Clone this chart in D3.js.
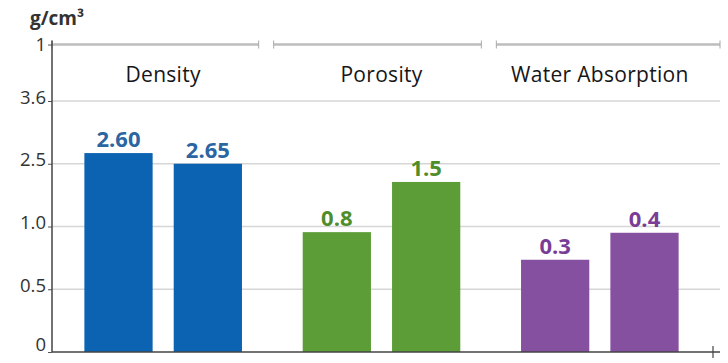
<!DOCTYPE html>
<html>
<head>
<meta charset="utf-8">
<script src="https://cdn.jsdelivr.net/npm/d3@7"></script>
<style>
  body { margin: 0; background: #fff; }
  svg { display: block; font-family: "Open Sans", "Noto Sans", sans-serif; }
</style>
</head>
<body>
<div id="chart"></div>
<script>
// data
var categories = ['Density', 'Porosity', 'Water Absorption'];
var members = ['a', 'b'];
var valueLabels = [['2.60', '2.65'], ['0.8', '1.5'], ['0.3', '0.4']];
// bar tops as drawn, in axis-tick units (the axis is not linear in its labels)
var barHeights = [[3.17, 3.0], [1.91, 2.71], [1.47, 1.90]];
var tickPos = [0, 1, 2, 3, 4, 4.9];
var tickLabels = ['0', '0.5', '1.0', '2.5', '3.6', '1'];
var barColors = ['#0b63b1', '#5c9d37', '#8650a0'];
var labelColors = ['#2b66a3', '#4f8d2b', '#7a3d96'];

var width = 728, height = 363;
var left = 52, right = 720, base = 352;

var svg = d3.select('#chart').append('svg')
    .attr('width', width)
    .attr('height', height);

var y = d3.scaleLinear().domain([0, 4]).range([base, 101]);

// header bands span the full plot, the bar groups sit a bit tighter
var xh = d3.scaleBand().domain(categories).range([left, right]);
var x0 = d3.scaleBand().domain(categories).range([54, 709]);
var x1 = d3.scaleBand().domain(members).range([0, x0.bandwidth()])
    .paddingInner(0.236).paddingOuter(0.34);

// gridlines
svg.append('g').selectAll('line')
    .data(tickPos.slice(1, 5))
    .enter().append('line')
    .attr('x1', left).attr('x2', right)
    .attr('y1', function(d) { return y(d); })
    .attr('y2', function(d) { return y(d); })
    .attr('stroke', '#d6d6d6')
    .attr('stroke-width', 1.5);

// header brackets
var topY = y(tickPos[5]);
function bx0(d, i) { return xh(d) + (i == 0 ? 0 : -1); }
function bx1(d, i) { return xh(d) + xh.bandwidth() - (i == 2 ? 0 : 16); }
var brackets = svg.append('g').selectAll('g')
    .data(categories)
    .enter().append('g');
brackets.append('line')
    .attr('x1', bx0).attr('x2', bx1)
    .attr('y1', topY).attr('y2', topY)
    .attr('stroke', '#bdbdbd').attr('stroke-width', 2.5);
brackets.each(function(d, i) {
    var g = d3.select(this);
    [bx0(d, i), bx1(d, i)].forEach(function(xx) {
        g.append('line')
            .attr('x1', xx).attr('x2', xx)
            .attr('y1', topY - 4).attr('y2', topY + 4)
            .attr('stroke', '#aaa').attr('stroke-width', 1);
    });
});

// category labels
svg.append('g').selectAll('text')
    .data(categories)
    .enter().append('text')
    .attr('x', function(d) { return x0(d) + x0.bandwidth() / 2; })
    .attr('y', 82)
    .attr('text-anchor', 'middle')
    .attr('font-size', 21)
    .attr('letter-spacing', 0.3)
    .attr('fill', '#161616')
    .text(function(d) { return d; });

// bars
var groups = svg.append('g').selectAll('g')
    .data(categories)
    .enter().append('g')
    .attr('transform', function(d) { return 'translate(' + x0(d) + ',0)'; });

groups.each(function(cat, ci) {
    var g = d3.select(this);
    var rows = members.map(function(m, mi) {
        return { m: m, h: barHeights[ci][mi], label: valueLabels[ci][mi] };
    });
    g.selectAll('rect')
        .data(rows)
        .enter().append('rect')
        .attr('x', function(d) { return x1(d.m); })
        .attr('y', function(d) { return y(d.h); })
        .attr('width', x1.bandwidth())
        .attr('height', function(d) { return y(0) - y(d.h); })
        .attr('fill', barColors[ci]);
    g.selectAll('text')
        .data(rows)
        .enter().append('text')
        .attr('x', function(d) { return x1(d.m) + x1.bandwidth() / 2; })
        .attr('y', function(d) { return y(d.h) - 6; })
        .attr('text-anchor', 'middle')
        .attr('font-size', 22)
        .attr('font-weight', 'bold')
        .attr('fill', labelColors[ci])
        .text(function(d) { return d.label; });
});

// y axis
var yAxis = d3.axisLeft(y)
    .tickValues(tickPos)
    .tickSize(4)
    .tickFormat(function(d, i) { return tickLabels[i]; });
var ay = svg.append('g')
    .attr('transform', 'translate(' + left + ',0)')
    .call(yAxis);
ay.select('.domain').remove();
ay.selectAll('.tick line').attr('stroke', '#555');
ay.selectAll('.tick text')
    .attr('font-size', 18.5)
    .attr('font-family', '"Open Sans", sans-serif')
    .attr('fill', '#333')
    .attr('x', -6)
    .attr('dy', function(d, i) {
        if (i == 0) return '-0.1em';
        if (i == tickPos.length - 1) return '0.34em';
        return '0.12em';
    });
svg.append('line')
    .attr('x1', left).attr('x2', left)
    .attr('y1', topY - 4).attr('y2', base)
    .attr('stroke', '#444').attr('stroke-width', 1.5);

// x axis line
svg.append('line')
    .attr('x1', left).attr('x2', right)
    .attr('y1', base).attr('y2', base)
    .attr('stroke', '#444').attr('stroke-width', 1.5);
svg.append('line')
    .attr('x1', 713).attr('x2', 713)
    .attr('y1', base - 6).attr('y2', base + 6)
    .attr('stroke', '#444').attr('stroke-width', 1.2);

// unit
svg.append('text')
    .attr('x', 30).attr('y', 25)
    .attr('font-size', 19)
    .attr('font-weight', 'bold')
    .attr('fill', '#333')
    .text('g/cm³');
</script>
</body>
</html>
